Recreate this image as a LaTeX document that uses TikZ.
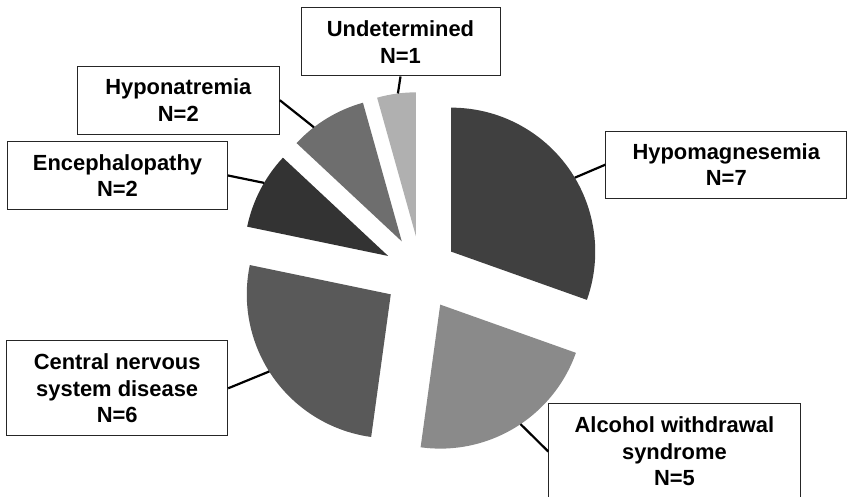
\documentclass[tikz,border=0pt]{standalone}
\usepackage{fontspec}
\setmainfont{Liberation Sans}
\usetikzlibrary{calc}
\begin{document}
\begin{tikzpicture}[x=1pt,y=1pt,
  lbl/.style={draw=black!85, line width=1pt, fill=white, align=center, inner sep=0pt,
    font=\fontsize{21.9}{26.5}\selectfont\bfseries},
  conn/.style={draw=black, line width=2.2pt},
]
\useasboundingbox (0,0) rectangle (848,497);
\clip (0,0) rectangle (848,497);
\def\R{144}
\def\D{37}
\coordinate (C) at (421,224);
% slice apexes
\coordinate (hypoA) at ($(C)+(35.22:\D)$);
\coordinate (alcA) at ($(C)+(-58.70:\D)$);
\coordinate (cnsA) at ($(C)+(-144.78:\D)$);
\coordinate (encA) at ($(C)+(-207.39:\D)$);
\coordinate (hnaA) at ($(C)+(-238.70:\D)$);
\coordinate (undA) at ($(C)+(-262.17:\D)$);
% slices
\fill[black!75] (hypoA) -- ++(90:\R) arc[start angle=90, end angle=-19.565, radius=\R] -- cycle;
\fill[black!46] (alcA) -- ++(-19.565:\R) arc[start angle=-19.565, end angle=-97.826, radius=\R] -- cycle;
\fill[black!65] (cnsA) -- ++(-97.826:\R) arc[start angle=-97.826, end angle=-191.739, radius=\R] -- cycle;
\fill[black!80] (encA) -- ++(-191.739:\R) arc[start angle=-191.739, end angle=-223.043, radius=\R] -- cycle;
\fill[black!57] (hnaA) -- ++(-223.043:\R) arc[start angle=-223.043, end angle=-254.348, radius=\R] -- cycle;
\fill[black!31] (undA) -- ++(-254.348:\R) arc[start angle=-254.348, end angle=-270, radius=\R] -- cycle;
% connector ends on slices
\coordinate (hypoE) at ($(hypoA)+(30.9:\R)$);
\coordinate (alcE) at ($(alcA)+(-56.1:\R)$);
\coordinate (cnsE) at ($(cnsA)+(212.4:\R)$);
\coordinate (encE) at ($(encA)+(149.5:\R)$);
\coordinate (hnaE) at ($(hnaA)+(127.6:\R)$);
\coordinate (undE) at ($(undA)+(97.2:\R)$);
% labels
\node[lbl, minimum width=199pt, minimum height=68pt] (und) at (400.5,455) {Undetermined\\N=1};
\node[lbl, minimum width=202pt, minimum height=68pt] (hna) at (178.3,396.8) {Hyponatremia\\N=2};
\node[lbl, minimum width=220pt, minimum height=67.6pt] (enc) at (117.5,321.5) {Encephalopathy\\N=2};
\node[lbl, minimum width=241pt, minimum height=67.3pt] (hypo) at (726.3,332.3) {Hypomagnesemia\\N=7};
\node[lbl, minimum width=221pt, minimum height=94.7pt] (cns) at (117.2,108.7) {Central nervous\\system disease\\N=6};
\node[lbl, minimum width=251.3pt, minimum height=95pt] (alc) at (674.4,45.5) {Alcohol withdrawal\\syndrome\\N=5};
% connectors
\draw[conn] (und.south) -- (undE);
\draw[conn] (hna.east) -- (hnaE);
\draw[conn] (enc.east) -- (encE);
\draw[conn] (hypo.west) -- (hypoE);
\draw[conn] (cns.east) -- (cnsE);
\draw[conn] (alc.west) -- (alcE);
\end{tikzpicture}
\end{document}
